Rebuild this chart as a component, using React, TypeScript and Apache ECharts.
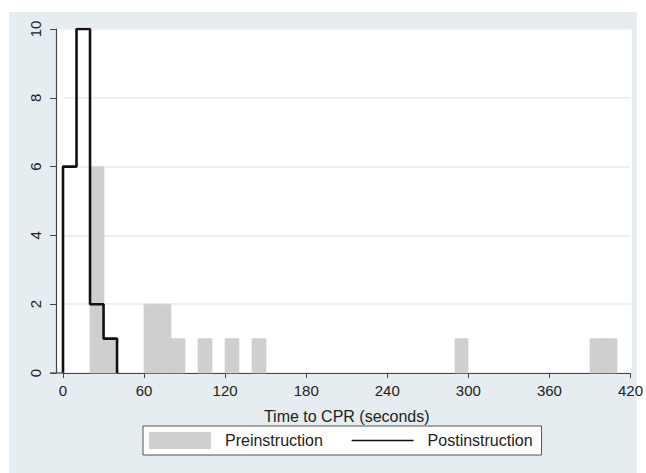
import React, { useEffect, useRef } from "react";
import * as echarts from "echarts";

// Histogram bins are 10 seconds wide
const binWidth = 10;
const preBinStarts = [20, 30, 60, 70, 80, 100, 120, 140, 290, 390, 400];
const preCounts = [6, 1, 2, 2, 1, 1, 1, 1, 1, 1, 1];
const postBinStarts = [0, 10, 20, 30];
const postCounts = [6, 10, 2, 1];
const xTicks = [0, 60, 120, 180, 240, 300, 360, 420];
const yTicks = [0, 2, 4, 6, 8, 10];
const xTitle = "Time to CPR (seconds)";
const seriesNames = ["Preinstruction", "Postinstruction"];

export default function App() {
  const ref = useRef<HTMLDivElement>(null);
  useEffect(() => {
    if (!ref.current) return;
    const chart = echarts.init(ref.current, null, { renderer: "svg" });

    const preData = preBinStarts.map((s, i) => [s, s + binWidth, preCounts[i]]);
    const stepData: number[][] = [];
    postBinStarts.forEach((s, i) => {
      const prev = i === 0 ? 0 : postCounts[i - 1];
      stepData.push([s, prev]);
      stepData.push([s, postCounts[i]]);
    });
    const lastEnd = postBinStarts[postBinStarts.length - 1] + binWidth;
    stepData.push([lastEnd, postCounts[postCounts.length - 1]]);
    stepData.push([lastEnd, 0]);

    const font = "'Liberation Sans', Arial, Helvetica, sans-serif";

    chart.setOption({
      animation: false,
      backgroundColor: "transparent",
      graphic: [
        {
          type: "rect",
          z: -10,
          silent: true,
          shape: { x: 9, y: 12, width: 628, height: 461 },
          style: { fill: "#e5edf0" },
        },
        {
          type: "rect",
          z: -9,
          silent: true,
          shape: { x: 56, y: 29, width: 576, height: 344 },
          style: { fill: "#ffffff" },
        },
        {
          type: "line",
          z: 5,
          silent: true,
          shape: { x1: 50, y1: 373, x2: 64, y2: 373 },
          style: { stroke: "#444", lineWidth: 1.2 },
        },
      ],
      grid: { left: 63, right: 14, top: 29, bottom: 100, containLabel: false },
      xAxis: {
        type: "value",
        min: xTicks[0],
        max: xTicks[xTicks.length - 1],
        interval: 60,
        name: xTitle,
        nameLocation: "middle",
        nameGap: 35,
        nameTextStyle: { fontFamily: font, fontSize: 16, color: "#222" },
        axisLine: { show: true, onZero: false, lineStyle: { color: "#444", width: 1.2 } },
        axisTick: { show: true, length: 5, lineStyle: { color: "#444" } },
        axisLabel: { fontFamily: font, fontSize: 15, color: "#222", margin: 10 },
        splitLine: { show: false },
      },
      yAxis: {
        type: "value",
        min: yTicks[0],
        max: yTicks[yTicks.length - 1],
        interval: 2,
        offset: 7,
        axisLine: { show: true, onZero: false, lineStyle: { color: "#444", width: 1.2 } },
        axisTick: { show: true, length: 6, lineStyle: { color: "#444" } },
        axisLabel: { fontFamily: font, fontSize: 15, color: "#222", rotate: 90, margin: 13 },
        splitLine: { show: true, lineStyle: { color: "#edf1f2", width: 2 } },
      },
      legend: {
        left: 143,
        top: 426,
        orient: "horizontal",
        padding: [6, 9, 6, 6],
        itemGap: 28,
        itemWidth: 62,
        itemHeight: 17,
        borderColor: "#555",
        borderWidth: 1,
        backgroundColor: "#ffffff",
        borderRadius: 0,
        textStyle: { fontFamily: font, fontSize: 16, color: "#222", padding: [0, 0, 0, 9] },
        data: [
          { name: seriesNames[0], icon: "rect" },
          {
            name: seriesNames[1],
            lineStyle: { width: 1.6, color: "#111" },
            itemStyle: { opacity: 0, color: "rgba(0,0,0,0)", borderWidth: 0 },
          },
        ],
      },
      series: [
        {
          name: seriesNames[0],
          type: "custom",
          itemStyle: { color: "#cfcfcf" },
          encode: { x: [0, 1], y: 2 },
          data: preData,
          renderItem: (params: any, api: any) => {
            const x0 = api.value(0);
            const x1 = api.value(1);
            const y = api.value(2);
            const p0 = api.coord([x0, y]);
            const p1 = api.coord([x1, 0]);
            const left = Math.round(p0[0]);
            const right = Math.round(p1[0]);
            return {
              type: "rect",
              shape: { x: left, y: p0[1], width: right - left, height: p1[1] - p0[1] },
              style: { fill: "#cfcfcf", stroke: "#cfcfcf", lineWidth: 0.6 },
            };
          },
          z: 1,
        },
        {
          name: seriesNames[1],
          type: "line",
          data: stepData,
          symbol: "none",
          lineStyle: { color: "#111", width: 2.6 },
          itemStyle: { color: "#111" },
          z: 3,
        },
      ],
    });
    return () => chart.dispose();
  }, []);
  return (
    <div
      ref={ref}
      style={{ position: "absolute", left: 0, top: 0, width: 646, height: 473 }}
    />
  );
}
